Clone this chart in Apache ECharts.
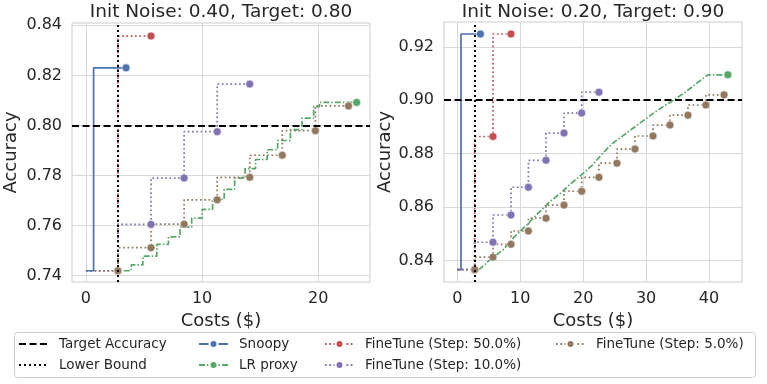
<!DOCTYPE html>
<html>
<head>
<meta charset="utf-8">
<script src="https://cdn.jsdelivr.net/npm/echarts@6/dist/echarts.min.js"></script>
<style>
  html, body { margin: 0; padding: 0; background: #fff; }
  #chart { width: 767px; height: 384px; }
</style>
</head>
<body>
<div id="chart"></div>
<script>
// panel titles / thresholds
const titles = ['Init Noise: 0.40, Target: 0.80', 'Init Noise: 0.20, Target: 0.90'];
const targets = [0.80, 0.90];
const lowerBounds = [2.75, 2.75];

// tick labels
const xTicksL = [0, 10, 20];
const xTicksR = [0, 10, 20, 30, 40];
const yTicksL = [0.74, 0.76, 0.78, 0.80, 0.82, 0.84];
const yTicksR = [0.84, 0.86, 0.88, 0.90, 0.92];

// left panel: [cost, accuracy]
const snoopyL = [[0, 0.742], [0.66, 0.742], [3.45, 0.823]];
const lrProxyL = [[3.25, 0.742], [3.9, 0.7443], [4.9, 0.7478], [6.1, 0.7525], [7.1, 0.7555], [8.1, 0.7594],
  [9.1, 0.763], [10.0, 0.7665], [10.9, 0.7705], [11.9, 0.7745], [12.8, 0.779], [13.7, 0.7828], [14.6, 0.7864],
  [15.6, 0.7903], [16.5, 0.794], [17.6, 0.7983], [18.6, 0.8029], [19.6, 0.8075], [20.1, 0.8092], [23.3, 0.8092]];
const ft50L = [[0, 0.742], [2.75, 0.742], [5.6, 0.8357]];
const ft10L = [[0, 0.742], [2.75, 0.742], [5.6, 0.7605], [8.45, 0.779], [11.3, 0.7975], [14.1, 0.8165]];
const ft5L = [[0, 0.742], [2.75, 0.742], [5.6, 0.7512], [8.45, 0.7606], [11.3, 0.7703], [14.1, 0.7793],
  [16.9, 0.7881], [19.75, 0.7979], [22.6, 0.8078]];

// right panel
const snoopyR = [[0, 0.8365], [0.57, 0.8365], [3.66, 0.9248]];
const lrProxyR = [[3.4, 0.8364], [5.1, 0.8401], [7.25, 0.8439], [9.1, 0.8489], [11.0, 0.8532], [12.8, 0.8576],
  [14.7, 0.862], [16.4, 0.8652], [18.0, 0.8687], [19.7, 0.872], [21.5, 0.8758], [23.1, 0.8801], [24.7, 0.8839],
  [26.9, 0.8877], [29.0, 0.8914], [30.8, 0.8945], [32.7, 0.8976], [34.5, 0.9002], [36.4, 0.9033],
  [38.2, 0.9066], [39.8, 0.9095], [43.0, 0.9095]];
const ft50R = [[0, 0.8365], [2.75, 0.8365], [5.66, 0.8864], [8.52, 0.9248]];
const ft10R = [[0, 0.8365], [2.75, 0.8365], [5.66, 0.8468], [8.52, 0.857], [11.29, 0.8674], [14.09, 0.8775],
  [16.95, 0.8877], [19.76, 0.8952], [22.5, 0.903]];
const ft5R = [[0, 0.8365], [2.75, 0.8365], [5.66, 0.8412], [8.52, 0.846], [11.29, 0.851], [14.09, 0.8558],
  [16.95, 0.8607], [19.76, 0.8659], [22.5, 0.8711], [25.37, 0.8764], [28.24, 0.8817], [31.1, 0.8866],
  [33.8, 0.8907], [36.66, 0.8944], [39.5, 0.8982], [42.4, 0.902]];

const FONT = 'DejaVu Sans';
const INK = '#262626';
const C = { snoopy: '#4c72b0', lr: '#55a868', ft50: '#c44e52', ft10: '#8172b3', ft5: '#937860' };

// only the last point gets a marker (or every point but the start one)
const marked = (arr, all) => arr.map((p, i) => {
  const show = all ? i > 0 : i === arr.length - 1;
  return show ? p : { value: p, symbol: 'none' };
});

const line = (name, idx, data, color, type, step, all, z) => ({
  name, type: 'line', xAxisIndex: idx, yAxisIndex: idx,
  data: marked(data, all), step, z: z || 2,
  symbol: 'circle', symbolSize: 8, showAllSymbol: true,
  lineStyle: { color, width: 1.7, type },
  itemStyle: { color, borderColor: '#fff', borderWidth: 0.6 },
  emphasis: { disabled: true }
});

const refLine = (name, idx, dash, mark) => ({
  name, type: 'line', xAxisIndex: idx, yAxisIndex: idx, data: [],
  symbol: 'none', z: 1,
  lineStyle: { color: '#000', width: 2, type: dash },
  itemStyle: { color: '#000' },
  markLine: {
    silent: true, symbol: ['none', 'none'], label: { show: false },
    lineStyle: { color: '#000', width: 2, type: dash },
    data: [mark]
  }
});

const panels = [
  { snoopy: snoopyL, lr: lrProxyL, lrStep: 'end', f50: ft50L, f10: ft10L, f5: ft5L },
  { snoopy: snoopyR, lr: lrProxyR, lrStep: false, f50: ft50R, f10: ft10R, f5: ft5R }
];

const series = [];
panels.forEach((p, i) => {
  series.push(refLine('Target Accuracy', i, [7, 3.5], { yAxis: targets[i] }));
  series.push(refLine('Lower Bound', i, [2, 3], { xAxis: lowerBounds[i] }));
  series.push(line('Snoopy', i, p.snoopy, C.snoopy, 'solid', 'start', false, 4));
  series.push(line('LR proxy', i, p.lr, C.lr, [6, 2, 1.5, 2], p.lrStep, false));
  series.push(line('FineTune (Step: 50.0%)', i, p.f50, C.ft50, [1.7, 2.6], 'start', true));
  series.push(line('FineTune (Step: 10.0%)', i, p.f10, C.ft10, [1.7, 2.6], 'start', true));
  series.push(line('FineTune (Step: 5.0%)', i, p.f5, C.ft5, [1.7, 2.6], 'start', true));
});

const xAxis = (idx, min, max, ticks) => ({
  type: 'value', gridIndex: idx, min, max,
  name: 'Costs ($)', nameLocation: 'middle', nameGap: 30,
  nameTextStyle: { fontFamily: FONT, fontSize: 18, color: INK },
  axisLine: { show: false },
  axisTick: { show: false, customValues: ticks },
  axisLabel: { customValues: ticks, fontFamily: FONT, fontSize: 16, color: INK, margin: 9 },
  splitLine: { show: true, lineStyle: { color: '#d9d9d9', width: 1 } }
});

const yAxis = (idx, min, max, ticks, gap) => ({
  type: 'value', gridIndex: idx, min, max,
  name: 'Accuracy', nameLocation: 'middle', nameGap: gap,
  nameTextStyle: { fontFamily: FONT, fontSize: 18, color: INK },
  axisLine: { show: false },
  axisTick: { show: false, customValues: ticks },
  axisLabel: { customValues: ticks, fontFamily: FONT, fontSize: 16, color: INK, margin: 10,
    formatter: v => v.toFixed(2) },
  splitLine: { show: true, lineStyle: { color: '#d9d9d9', width: 1 } }
});

// reference lines have no marker in the legend
const noMarker = name => ({ name, itemStyle: { opacity: 0 } });

const legendCols = [
  { left: 18, data: [noMarker('Target Accuracy'), noMarker('Lower Bound')] },
  { left: 198, data: ['Snoopy', 'LR proxy'] },
  { left: 324, data: ['FineTune (Step: 50.0%)', 'FineTune (Step: 10.0%)'] },
  { left: 555, data: ['FineTune (Step: 5.0%)'] }
];

const chart = echarts.init(document.getElementById('chart'));
chart.setOption({
  animation: false,
  backgroundColor: '#fff',
  title: titles.map((t, i) => ({
    text: t, left: i === 0 ? 221 : 593, top: 3, textAlign: 'center', padding: 0,
    textStyle: { fontFamily: FONT, fontSize: 18.5, fontWeight: 'normal', color: INK }
  })),
  grid: [
    { left: 72, top: 23, width: 298, height: 259, show: true, borderColor: '#cccccc', borderWidth: 1, backgroundColor: 'transparent' },
    { left: 444, top: 22, width: 298, height: 260, show: true, borderColor: '#cccccc', borderWidth: 1, backgroundColor: 'transparent' }
  ],
  xAxis: [xAxis(0, -1.2, 24.45, xTicksL), xAxis(1, -2.13, 45.25, xTicksR)],
  yAxis: [yAxis(0, 0.7375, 0.8409, yTicksL, 52), yAxis(1, 0.8319, 0.9293, yTicksR, 50)],
  legend: legendCols.map(c => ({
    left: c.left, top: 337, orient: 'vertical', itemWidth: 29, itemHeight: 10, itemGap: 7,
    selectedMode: false, data: c.data, padding: 0,
    textStyle: { fontFamily: FONT, fontSize: 13.5, color: INK, padding: [0, 0, 0, 6] }
  })),
  graphic: [{
    type: 'rect', left: 14, top: 332, z: -1,
    shape: { width: 741, height: 45, r: 3 },
    style: { fill: '#fff', stroke: '#cccccc', lineWidth: 1 }
  }],
  series
});
</script>
</body>
</html>
